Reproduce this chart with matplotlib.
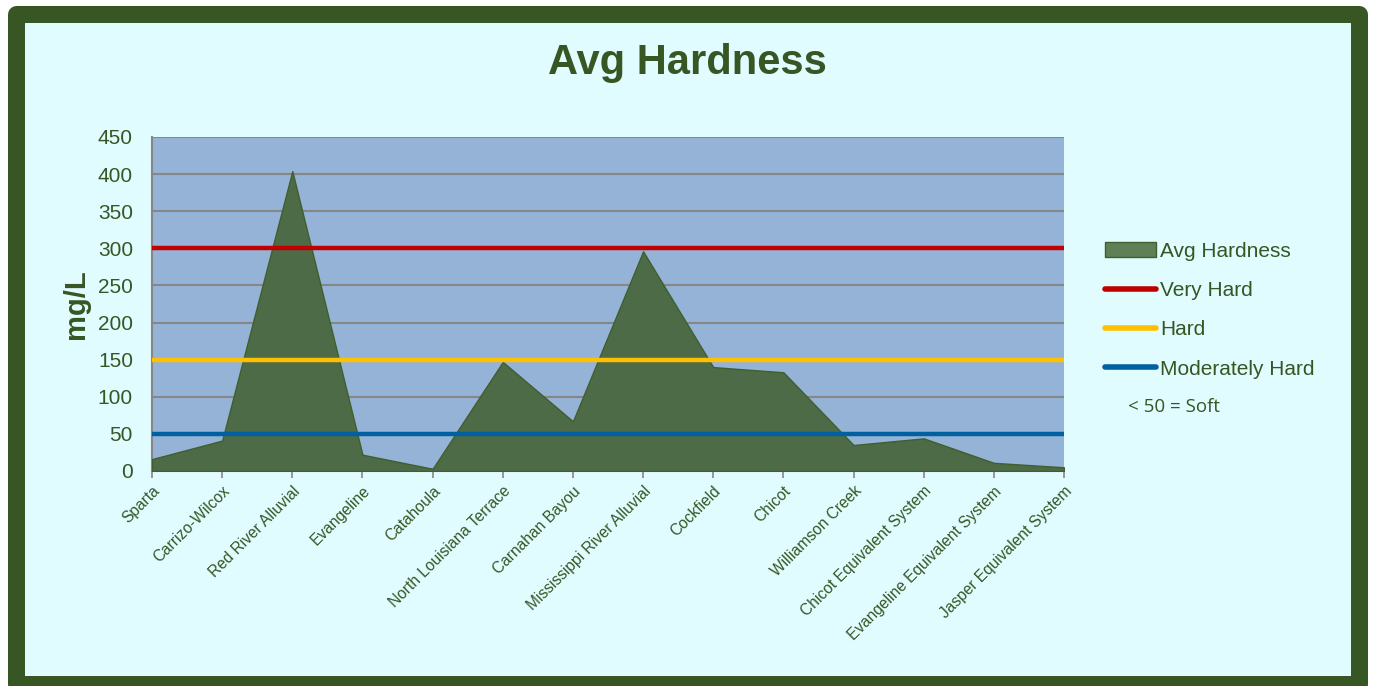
import matplotlib
matplotlib.use("Agg")
import matplotlib.pyplot as plt
from matplotlib.patches import Rectangle, Patch
from matplotlib.lines import Line2D
from matplotlib.transforms import ScaledTranslation

# data
aquifers = ["Sparta", "Carrizo-Wilcox", "Red River Alluvial", "Evangeline",
            "Catahoula", "North Louisiana Terrace", "Carnahan Bayou",
            "Mississippi River Alluvial", "Cockfield", "Chicot",
            "Williamson Creek", "Chicot Equivalent System",
            "Evangeline Equivalent System", "Jasper Equivalent System"]
avg_hardness = [16, 41, 404, 22, 3, 147, 67, 296, 140, 133, 35, 44, 11, 5]
very_hard = 300
hard = 150
moderately_hard = 50
y_ticks = [0, 50, 100, 150, 200, 250, 300, 350, 400, 450]

GREEN = "#375623"
FONT = ["Liberation Sans", "DejaVu Sans"]
plt.rcParams["font.family"] = FONT

fig = plt.figure(figsize=(13.74, 6.86), dpi=100)
fig.patch.set_facecolor("white")

# rounded dark-green frame with light cyan inside
W, H = 1374.0, 686.0
frame = Rectangle((15.5 / W, 1 - 683.5 / H), (1358.5 - 15.5) / W, (683.5 - 13.5) / H,
                  transform=fig.transFigure, facecolor="#E0FCFF", edgecolor=GREEN,
                  linewidth=17 * 72 / 100, joinstyle="round", zorder=-10)
fig.patches.append(frame)

ax = fig.add_axes([152 / W, 1 - 471 / H, (1064 - 152) / W, (471 - 137) / H])
ax.set_facecolor("#95B3D7")

x = list(range(len(aquifers)))
ax.fill_between(x, avg_hardness, 0, facecolor="#4E6B47", edgecolor="#3F5F2E",
                linewidth=1, zorder=3)

for val, col in [(very_hard, "#C00000"), (hard, "#FFC000"), (moderately_hard, "#0060A0")]:
    ax.axhline(val, color=col, linewidth=3.2, zorder=4, solid_capstyle="butt")

ax.set_xlim(0, len(aquifers) - 1)
ax.set_ylim(0, 450)
ax.set_yticks(y_ticks)
ax.yaxis.grid(True, color="#868686", linewidth=1.5, zorder=1)
ax.set_axisbelow(True)

ax.set_xticks(x)
ax.set_xticklabels(aquifers, rotation=45, ha="right", rotation_mode="anchor",
                   fontsize=11.2, color=GREEN)
# nudge the slanted labels a little left like the original
shift = ScaledTranslation(-5 / 100, -2 / 100, fig.dpi_scale_trans)
for lbl in ax.get_xticklabels():
    lbl.set_transform(lbl.get_transform() + shift)
ax.tick_params(axis="x", length=5, color="#868686", width=1.2, pad=4)
ax.tick_params(axis="y", length=0, pad=13.7, labelsize=15, labelcolor=GREEN)

for s in ["top", "right"]:
    ax.spines[s].set_visible(False)
for s in ["left", "bottom"]:
    ax.spines[s].set_color("#868686")
    ax.spines[s].set_linewidth(1.5)

ax.set_ylabel("mg/L", fontsize=21, fontweight="bold", color=GREEN, labelpad=6)

fig.text(687 / W, 1 - 63 / H, "Avg Hardness", ha="center", va="center",
         fontsize=30, fontweight="bold", color=GREEN)

handles = [
    Patch(facecolor="#5F7F57", edgecolor="#3F5F2E", linewidth=1),
    Line2D([], [], color="#C00000", linewidth=4, solid_capstyle="round"),
    Line2D([], [], color="#FFC000", linewidth=4, solid_capstyle="round"),
    Line2D([], [], color="#0060A0", linewidth=4, solid_capstyle="round"),
]
labels = ["Avg Hardness", "Very Hard", "Hard", "Moderately Hard"]
leg = fig.legend(handles, labels, loc="upper left",
                 bbox_to_anchor=(1105 / W, 1 - 242 / H), frameon=False,
                 fontsize=15, handlelength=2.45, handletextpad=0.2,
                 labelspacing=0.97, borderaxespad=0, borderpad=0)
for t in leg.get_texts():
    t.set_color(GREEN)

fig.text(1128 / W, 1 - 407 / H, "< 50 = Soft", ha="left", va="center",
         fontsize=13.5, color=GREEN, family=["Open Sans", "DejaVu Sans"])

fig.savefig("out.png", dpi=100, facecolor=fig.get_facecolor())
